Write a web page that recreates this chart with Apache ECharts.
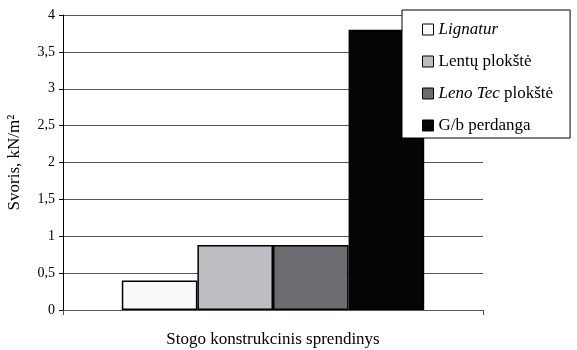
<!DOCTYPE html>
<html><head><meta charset="utf-8">
<script src="https://cdn.jsdelivr.net/npm/echarts@6/dist/echarts.min.js"></script>
<style>html,body{margin:0;padding:0;background:#fff}#c{width:577px;height:350px}</style>
</head><body><div id="c"></div>
<script>
var categories = ['Stogo konstrukcinis sprendinys'];
var seriesNames = ['Lignatur', 'Lentų plokštė', 'Leno Tec plokštė', 'G/b perdanga'];
var lignatur = [0.4];
var lentu = [0.88];
var lenoTec = [0.88];
var gb = [3.8];
var yTicks = ['0','0,5','1','1,5','2','2,5','3','3,5','4'];
var colors = ['#f8f9f8', '#bdbec1', '#6b6c70', '#050505'];
var values = [lignatur, lentu, lenoTec, gb];

var font = 'Liberation Serif';
var chart = echarts.init(document.getElementById('c'));
chart.setOption({
  animation: false,
  textStyle: { fontFamily: font },
  grid: { left: 63, right: 94, top: 15, bottom: 40, containLabel: false, outerBoundsMode: 'none' },
  legend: {
    orient: 'vertical', left: 402, top: 10,
    padding: [11, 17, 4, 20], itemGap: 15,
    backgroundColor: '#fff', borderColor: '#000', borderWidth: 1,
    icon: 'rect',
    itemWidth: 11, itemHeight: 11, itemStyle: { borderColor: '#000', borderWidth: 1 },
    textStyle: { fontFamily: font, fontSize: 17, color: '#000',
      rich: { i: { fontFamily: font, fontStyle: 'italic', fontSize: 17, color: '#000' },
              n: { fontFamily: font, fontSize: 17, color: '#000' } } },
    formatter: function (name) {
      if (name === 'Lignatur') return '{i|Lignatur}';
      if (name === 'Leno Tec plokštė') return '{i|Leno Tec} {n|plokštė}';
      return '{n|' + name + '}';
    },
    data: seriesNames
  },
  xAxis: {
    type: 'category', data: categories,
    name: categories[0], nameLocation: 'middle', nameGap: 21,
    nameTextStyle: { fontFamily: font, fontSize: 17, color: '#000' },
    axisLine: { lineStyle: { color: '#555', width: 1 } },
    axisTick: { show: true, length: 5, lineStyle: { color: '#555' } },
    axisLabel: { show: false }
  },
  yAxis: {
    type: 'value', min: 0, max: 4, interval: 0.5,
    name: 'Svoris, kN/m²', nameLocation: 'middle', nameGap: 40, nameRotate: 90,
    nameTextStyle: { fontFamily: font, fontSize: 17, color: '#000' },
    axisLine: { show: true, lineStyle: { color: '#000', width: 1 } },
    axisTick: { show: true, length: 4, inside: false, lineStyle: { color: '#000' } },
    axisLabel: { fontFamily: font, fontSize: 14, color: '#000', margin: 8,
      formatter: function (v) { return yTicks[Math.round(v * 2)]; } },
    splitLine: { show: true, lineStyle: { color: '#555', width: 1 } }
  },
  series: seriesNames.map(function (n, i) {
    return {
      name: n, type: 'bar', data: values[i],
      barGap: '0%', barCategoryGap: '28%',
      itemStyle: { color: colors[i], borderColor: '#000', borderWidth: 1.5 }
    };
  })
});
</script></body></html>
